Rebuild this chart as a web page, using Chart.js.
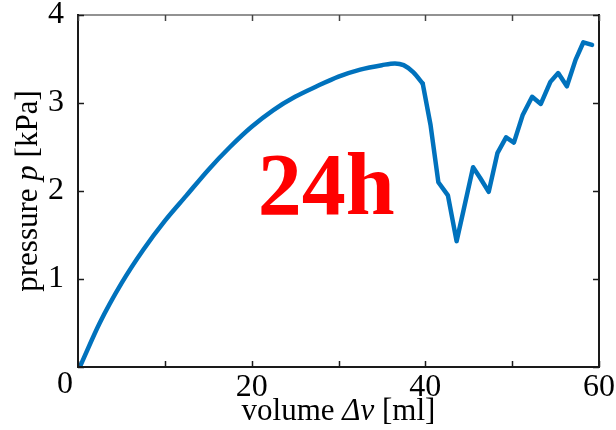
<!DOCTYPE html>
<html>
<head>
<meta charset="utf-8">
<script src="https://cdn.jsdelivr.net/npm/chart.js@4/dist/chart.umd.min.js"></script>
<style>
  html, body { margin: 0; padding: 0; background: #fff; }
  #wrap { width: 616px; height: 430px; }
</style>
</head>
<body>
<div id="wrap"><canvas id="c" width="616" height="430"></canvas></div>
<script>
// Measured pressure-volume curve (24 h sample): smooth loading branch, then the rupture zigzag
const loadVolume = [0.3, 2.5, 5.0, 7.5, 10.0, 12.5, 15.0, 17.5, 20.0, 22.5, 25.0, 27.5, 30.0, 32.5, 35.0, 36.5, 37.5, 38.6, 39.7];
const loadPressure = [0.02, 0.50, 0.95, 1.33, 1.66, 1.95, 2.24, 2.50, 2.73, 2.92, 3.07, 3.19, 3.30, 3.38, 3.43, 3.45, 3.43, 3.35, 3.22];
const failVolume = [39.7, 40.6, 41.5, 42.6, 43.6, 44.4, 45.5, 46.3, 47.3, 48.3, 49.3, 50.2, 51.2, 52.3, 53.3, 54.4, 55.3, 56.3, 57.3, 58.2, 59.2];
const failPressure = [3.22, 2.75, 2.10, 1.95, 1.43, 1.78, 2.27, 2.15, 1.99, 2.43, 2.61, 2.55, 2.86, 3.07, 2.99, 3.24, 3.34, 3.19, 3.49, 3.69, 3.66];

const xTickValues = [0, 10, 20, 30, 40, 50, 60];
const xTickLabels = ['0', '', '20', '', '40', '', '60'];
const yTickValues = [0, 1, 2, 3, 4];
const yTickLabels = ['', '1', '2', '3', '4'];
const sampleLabel = '24h';
const sampleLabelPos = { x: 28.6, y: 1.74 };

const SERIF = '"Liberation Serif", "Times New Roman", serif';
const TICK_FONT = 32;
const TITLE_FONT = 31;
const LINE_COLOR = '#0072BD';

const toPoints = (xs, ys) => xs.map((v, i) => ({ x: v, y: ys[i] }));

// Frame, inward tick marks, axis titles and the sample label
const decorations = {
  id: 'decorations',
  afterDraw(chart) {
    const ctx = chart.ctx;
    const { left, right, top, bottom } = chart.chartArea;
    const xs = chart.scales.x, ys = chart.scales.y;
    ctx.save();

    // frame
    ctx.lineCap = 'square';
    ctx.strokeStyle = '#6e6e6e';
    ctx.lineWidth = 1.5;
    ctx.beginPath(); ctx.moveTo(left, top); ctx.lineTo(right, top); ctx.stroke();
    ctx.strokeStyle = '#1a1a1a';
    ctx.lineWidth = 2;
    ctx.beginPath();
    ctx.moveTo(left, top); ctx.lineTo(left, bottom); ctx.lineTo(right, bottom); ctx.lineTo(right, top);
    ctx.stroke();

    // inward ticks
    const tl = 6;
    ctx.lineWidth = 1.5;
    ctx.lineCap = 'butt';
    xTickValues.forEach(v => {
      const px = Math.round(xs.getPixelForValue(v)) + 0.5;
      ctx.strokeStyle = '#1a1a1a';
      ctx.beginPath(); ctx.moveTo(px, bottom); ctx.lineTo(px, bottom - tl); ctx.stroke();
      ctx.strokeStyle = '#444';
      ctx.beginPath(); ctx.moveTo(px, top); ctx.lineTo(px, top + tl); ctx.stroke();
    });
    ctx.strokeStyle = '#1a1a1a';
    yTickValues.forEach(v => {
      const py = Math.round(ys.getPixelForValue(v)) + 0.5;
      ctx.beginPath(); ctx.moveTo(left, py); ctx.lineTo(left + tl, py); ctx.stroke();
      ctx.beginPath(); ctx.moveTo(right, py); ctx.lineTo(right - tl, py); ctx.stroke();
    });

    // shared origin label
    ctx.fillStyle = '#000';
    ctx.font = TICK_FONT + 'px ' + SERIF;
    ctx.textAlign = 'center';
    ctx.textBaseline = 'alphabetic';
    ctx.fillText(xTickLabels[0], left - 13, bottom + 26);

    // axis titles with italic symbols
    const drawRuns = (runs, cx, cy) => {
      let total = 0;
      runs.forEach(r => { ctx.font = r.font; r.w = ctx.measureText(r.t).width; total += r.w; });
      let x = cx - total / 2;
      ctx.textAlign = 'left';
      runs.forEach(r => { ctx.font = r.font; ctx.fillText(r.t, x, cy); x += r.w; });
    };
    const normal = TITLE_FONT + 'px ' + SERIF;
    const italic = 'italic ' + TITLE_FONT + 'px ' + SERIF;
    drawRuns([
      { t: 'volume ', font: normal },
      { t: '\u0394v', font: italic },
      { t: ' [ml]', font: normal }
    ], (left + right) / 2, 420);

    ctx.save();
    ctx.translate(37, (top + bottom) / 2);
    ctx.rotate(-Math.PI / 2);
    drawRuns([
      { t: 'pressure ', font: normal },
      { t: 'p', font: italic },
      { t: ' [kPa]', font: normal }
    ], 0, 0);
    ctx.restore();

    // sample label
    ctx.fillStyle = '#ff0000';
    ctx.font = 'bold 88px ' + SERIF;
    ctx.textAlign = 'center';
    ctx.textBaseline = 'alphabetic';
    ctx.fillText(sampleLabel, xs.getPixelForValue(sampleLabelPos.x), ys.getPixelForValue(sampleLabelPos.y));

    ctx.restore();
  }
};

const lineStyle = {
  borderColor: LINE_COLOR,
  borderWidth: 4.5,
  pointRadius: 0,
  fill: false,
  borderJoinStyle: 'round',
  borderCapStyle: 'round'
};

new Chart(document.getElementById('c'), {
  type: 'line',
  data: {
    datasets: [
      Object.assign({ data: toPoints(loadVolume, loadPressure), cubicInterpolationMode: 'monotone' }, lineStyle),
      Object.assign({ data: toPoints(failVolume, failPressure), tension: 0 }, lineStyle)
    ]
  },
  options: {
    responsive: false,
    animation: false,
    devicePixelRatio: 1,
    layout: { padding: { left: 0, right: 17, top: 15, bottom: 0 } },
    plugins: { legend: { display: false }, tooltip: { enabled: false } },
    scales: {
      x: {
        type: 'linear', min: 0, max: 60,
        afterBuildTicks: s => { s.ticks = xTickValues.map(v => ({ value: v })); },
        afterFit: s => { s.height = 430 - 367; },
        grid: { display: false },
        border: { display: false },
        ticks: {
          autoSkip: false, maxRotation: 0, padding: -7,
          color: '#000',
          font: { family: SERIF, size: TICK_FONT },
          callback: v => { const i = xTickValues.indexOf(v); return i > 0 ? xTickLabels[i] : ''; }
        }
      },
      y: {
        type: 'linear', min: 0, max: 4,
        afterBuildTicks: s => { s.ticks = yTickValues.map(v => ({ value: v })); },
        afterFit: s => { s.width = 78; s.paddingTop = 0; s.paddingBottom = 0; },
        grid: { display: false },
        border: { display: false },
        ticks: {
          autoSkip: false, padding: 6,
          color: '#000',
          font: { family: SERIF, size: TICK_FONT, lineHeight: 0.8 },
          callback: v => { const i = yTickValues.indexOf(v); return i >= 0 ? yTickLabels[i] : ''; }
        }
      }
    }
  },
  plugins: [decorations]
});
</script>
</body>
</html>
